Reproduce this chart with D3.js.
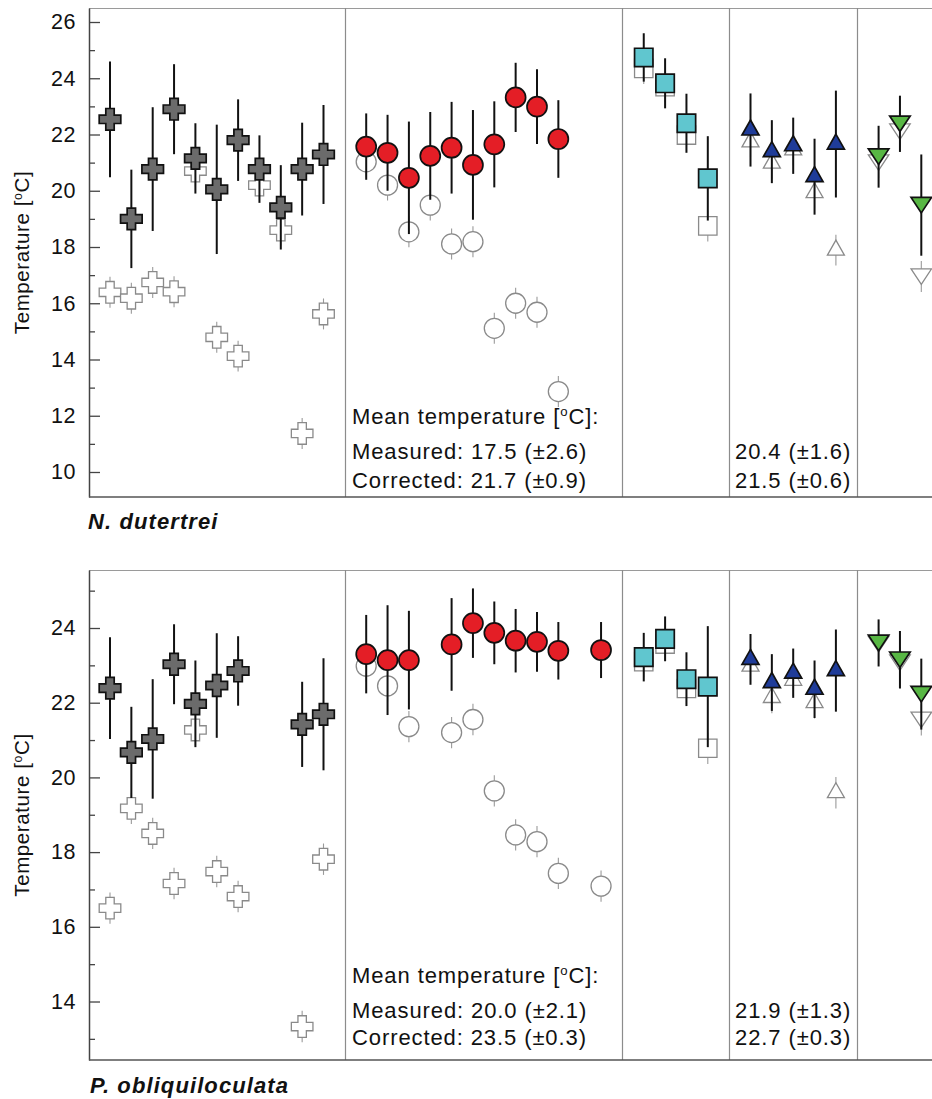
<!DOCTYPE html>
<html><head><meta charset="utf-8">
<script src="https://cdn.jsdelivr.net/npm/d3@7"></script>
<style>body{margin:0;background:#fff}svg{display:block}</style>
</head><body>
<svg id="c" width="932" height="1099"></svg>
<script>
// ---------------- DATA ----------------
// x positions are sample slots along the transect (group boundaries between)
const groupBoundaries = [11, 24, 29, 35];

// N. dutertrei (top panel)
const ndTicksMajor = [10, 12, 14, 16, 18, 20, 22, 24, 26];
const ndTicksMinor = [11, 13, 15, 17, 19, 21, 23, 25];
const ndMeasErr = 0.55;
const ndCrossIdx  = [0, 1, 2, 3, 4, 5, 6, 7, 8, 9, 10];
const ndCrossCorr = [22.54, 19.0, 20.77, 22.9, 21.15, 20.05, 21.8, 20.77, 19.41, 20.77, 21.29];
const ndCrossErr  = [2.06, 1.75, 2.2, 1.6, 1.25, 2.3, 1.45, 1.2, 1.5, 1.65, 1.76];
const ndCrossMeas = [16.39, 16.18, 16.74, 16.41, 20.7, 14.79, 14.12, 20.2, 18.6, 11.37, 15.62];
const ndCircIdx  = [12, 13, 14, 15, 16, 17, 18, 19, 20, 21];
const ndCircCorr = [21.57, 21.35, 20.46, 21.24, 21.53, 20.92, 21.65, 23.32, 22.99, 21.84];
const ndCircErr  = [1.18, 1.35, 2.0, 1.56, 1.63, 1.95, 1.53, 1.23, 1.33, 1.38];
const ndCircMeas = [21.03, 20.2, 18.54, 19.49, 18.11, 18.19, 15.11, 16.0, 15.68, 12.86];
const ndSqIdx  = [25, 26, 27, 28];
const ndSqCorr = [24.74, 23.82, 22.4, 20.44];
const ndSqErr  = [0.86, 0.89, 1.05, 1.5];
const ndSqMeas = [24.35, 23.7, 21.98, 18.75];
const ndTriIdx  = [30, 31, 32, 33, 34];
const ndTriCorr = [22.16, 21.39, 21.6, 20.5, 21.66];
const ndTriErr  = [1.3, 1.12, 1.0, 1.35, 1.9];
const ndTriMeas = [21.74, 20.98, 21.45, 19.93, 17.89];
const ndDtriIdx  = [36, 37, 38];
const ndDtriCorr = [21.21, 22.38, 19.49];
const ndDtriErr  = [1.1, 1.0, 1.8];
const ndDtriMeas = [21.0, 22.1, 16.95];
const meanHeader = "Mean temperature [";
const ndMeanCol1 = ["Measured: 17.5 (±2.6)", "Corrected: 21.7 (±0.9)"];
const ndMeanCol2 = ["20.4 (±1.6)", "21.5 (±0.6)"];

// P. obliquiloculata (bottom panel)
const poTicksMajor = [14, 16, 18, 20, 22, 24];
const poTicksMinor = [13, 15, 17, 19, 21, 23, 25];
const poMeasErr = 0.42;
const poCrossIdx  = [0, 1, 2, 3, 4, 5, 6, 9, 10];
const poCrossCorr = [22.39, 20.67, 21.03, 23.03, 21.97, 22.46, 22.85, 21.42, 21.69];
const poCrossErr  = [1.36, 1.22, 1.6, 1.07, 1.16, 1.4, 0.93, 1.14, 1.5];
const poCrossMeas = [16.5, 19.17, 18.5, 17.16, 21.27, 17.48, 16.81, 13.33, 17.81];
const poCircIdx  = [12, 13, 14, 16, 17, 18, 19, 20, 21, 23];
const poCircCorr = [23.3, 23.14, 23.14, 23.56, 24.13, 23.87, 23.66, 23.63, 23.39, 23.41];
const poCircErr  = [1.05, 1.47, 1.32, 1.24, 0.93, 0.84, 0.85, 0.8, 0.77, 0.75];
const poCircMeas = [22.98, 22.45, 21.36, 21.2, 21.55, 19.64, 18.46, 18.28, 17.43, 17.09];
const poSqIdx  = [25, 26, 27, 28];
const poSqCorr = [23.22, 23.71, 22.63, 22.43];
const poSqErr  = [0.65, 0.6, 0.72, 1.62];
const poSqMeas = [23.1, 23.57, 22.38, 20.78];
const poTriIdx  = [30, 31, 32, 33, 34];
const poTriCorr = [23.16, 22.54, 22.79, 22.36, 22.86];
const poTriErr  = [0.68, 0.76, 0.66, 0.77, 1.1];
const poTriMeas = [22.98, 22.14, 22.6, 22.0, 19.59];
const poDtriIdx  = [36, 37, 38];
const poDtriCorr = [23.6, 23.15, 22.23];
const poDtriErr  = [0.63, 0.77, 0.95];
const poDtriMeas = [23.57, 23.07, 21.54];
const poMeanCol1 = ["Measured: 20.0 (±2.1)", "Corrected: 23.5 (±0.3)"];
const poMeanCol2 = ["21.9 (±1.3)", "22.7 (±0.3)"];

// ---------------- DRAWING ----------------
const W = 932, PL = 89;
const FONT = '"Liberation Sans", Arial, Helvetica, sans-serif';
const svg = d3.select('#c');
const x = d3.scaleLinear().domain([0, 38]).range([110, 921.3]);

const colors = {
  cross: '#6b6b6b', circle: '#e41e26', square: '#60c6cf', tri: '#1f3c99', dtri: '#58b744'
};

function shapePath(shape) {
  switch (shape) {
    case 'cross': { const s = 10.8, t = 4.2;
      return `M${-t},${-s}H${t}V${-t}H${s}V${t}H${t}V${s}H${-t}V${t}H${-s}V${-t}H${-t}Z`; }
    case 'square': { const h = 9.2;
      return `M${-h},${-h}H${h}V${h}H${-h}Z`; }
    case 'tri': { const w = 17, h = 15;
      return `M0,${-2*h/3}L${w/2},${h/3}L${-w/2},${h/3}Z`; }
    case 'dtri': { const w = 20.5, h = 15.5;
      return `M0,${h/2}L${w/2},${-h/2}L${-w/2},${-h/2}Z`; }
    case 'circle': return d3.symbol(d3.symbolCircle, Math.PI * 10 * 10)();
  }
}

function superDeg(textSel, before, after, fs) {
  textSel.append('tspan').text(before);
  textSel.append('tspan').attr('font-size', fs * 0.6).attr('dy', -fs * 0.36).text('o');
  textSel.append('tspan').attr('dy', fs * 0.36).text(after);
}

function drawPanel(p) {
  const y = d3.scaleLinear().domain(p.yDomain).range(p.yRange);
  const [yb, yt] = p.yRange;
  const g = svg.append('g');

  // top frame
  g.append('line').attr('x1', PL).attr('x2', W).attr('y1', yt + 0.5).attr('y2', yt + 0.5)
    .attr('stroke', '#9a9a9a').attr('stroke-width', 1.2);
  // group separators
  g.selectAll('line.sep').data(groupBoundaries).join('line').attr('class', 'sep')
    .attr('x1', d => Math.round(x(d)) + 0.5).attr('x2', d => Math.round(x(d)) + 0.5)
    .attr('y1', yt).attr('y2', yb).attr('stroke', '#8c8c8c').attr('stroke-width', 1.2);

  // y axis (ticks inward)
  const axG = g.append('g').attr('transform', `translate(${PL},0)`)
    .call(d3.axisLeft(y).tickValues(p.majors).tickSizeInner(-11).tickSizeOuter(0)
      .tickPadding(13).tickFormat(d3.format('d')));
  axG.select('.domain').attr('stroke', '#444').attr('stroke-width', 1.5);
  axG.selectAll('.tick line').attr('stroke', '#444').attr('stroke-width', 1.3);
  axG.selectAll('.tick text').attr('font-family', FONT).attr('font-size', 21.5)
    .attr('fill', '#111').attr('letter-spacing', 0.5);
  const mnG = g.append('g').attr('transform', `translate(${PL},0)`)
    .call(d3.axisLeft(y).tickValues(p.minors).tickSizeInner(-6).tickSizeOuter(0).tickFormat(''));
  mnG.select('.domain').remove();
  mnG.selectAll('.tick line').attr('stroke', '#444').attr('stroke-width', 1.3);

  // bottom axis line
  g.append('line').attr('x1', PL).attr('x2', W).attr('y1', yb).attr('y2', yb)
    .attr('stroke', '#555').attr('stroke-width', 1.6);

  // axis title
  const tt = g.append('text').attr('transform', `translate(29,${(yt + yb) / 2}) rotate(-90)`)
    .attr('text-anchor', 'middle').attr('font-family', FONT).attr('font-size', 20.5)
    .attr('letter-spacing', 0.6).attr('fill', '#111');
  superDeg(tt, 'Temperature [', 'C]', 20.5);

  // species label
  g.append('text').attr('x', p.nameX).attr('y', p.nameY).attr('font-family', FONT)
    .attr('font-size', 22).attr('font-weight', 'bold').attr('font-style', 'italic')
    .attr('letter-spacing', 1.1).attr('fill', '#111').text(p.name);

  // data
  const plot = g.append('g');
  p.groups.forEach(gr => {
    const meas = gr.idx.map((d, i) => ({ i: d, v: gr.meas[i] }));
    const path = shapePath(gr.shape);
    // measured error ticks
    plot.append('g').selectAll('line').data(meas).join('line')
      .attr('x1', d => x(d.i)).attr('x2', d => x(d.i))
      .attr('y1', d => y(d.v + p.measErr)).attr('y2', d => y(d.v - p.measErr))
      .attr('stroke', '#9a9a9a').attr('stroke-width', 1.1);
    // measured markers
    plot.append('g').selectAll('path').data(meas).join('path')
      .attr('d', path).attr('transform', d => `translate(${x(d.i)},${y(d.v)})`)
      .attr('fill', '#fff').attr('stroke', '#8a8a8a').attr('stroke-width', 1.3);
  });
  p.groups.forEach(gr => {
    const corr = gr.idx.map((d, i) => ({ i: d, v: gr.corr[i], e: gr.err[i] }));
    const path = shapePath(gr.shape);
    plot.append('g').selectAll('line').data(corr).join('line')
      .attr('x1', d => x(d.i)).attr('x2', d => x(d.i))
      .attr('y1', d => y(d.v + d.e)).attr('y2', d => y(d.v - d.e))
      .attr('stroke', '#111').attr('stroke-width', 2);
    plot.append('g').selectAll('path').data(corr).join('path')
      .attr('d', path).attr('transform', d => `translate(${x(d.i)},${y(d.v)})`)
      .attr('fill', colors[gr.shape]).attr('stroke', '#111').attr('stroke-width', 1.7);
  });

  // mean temperature annotation
  const fs = 22, ls = 0.9;
  const hd = g.append('text').attr('x', 352).attr('y', p.textY[0]).attr('font-family', FONT)
    .attr('font-size', fs).attr('letter-spacing', ls).attr('fill', '#111');
  superDeg(hd, meanHeader, 'C]:', fs);
  p.col1.forEach((t, i) => g.append('text').attr('x', 352).attr('y', p.textY[i + 1])
    .attr('font-family', FONT).attr('font-size', fs).attr('letter-spacing', ls)
    .attr('fill', '#111').text(t));
  p.col2.forEach((t, i) => g.append('text').attr('x', 735).attr('y', p.textY[i + 1])
    .attr('font-family', FONT).attr('font-size', fs).attr('letter-spacing', ls)
    .attr('fill', '#111').text(t));
}

drawPanel({
  name: 'N. dutertrei', nameX: 88, nameY: 529,
  yDomain: [9.111, 26.498], yRange: [497, 8],
  majors: ndTicksMajor, minors: ndTicksMinor, measErr: ndMeasErr,
  textY: [424, 459, 488], col1: ndMeanCol1, col2: ndMeanCol2,
  groups: [
    { shape: 'cross', idx: ndCrossIdx, corr: ndCrossCorr, err: ndCrossErr, meas: ndCrossMeas },
    { shape: 'circle', idx: ndCircIdx, corr: ndCircCorr, err: ndCircErr, meas: ndCircMeas },
    { shape: 'square', idx: ndSqIdx, corr: ndSqCorr, err: ndSqErr, meas: ndSqMeas },
    { shape: 'tri', idx: ndTriIdx, corr: ndTriCorr, err: ndTriErr, meas: ndTriMeas },
    { shape: 'dtri', idx: ndDtriIdx, corr: ndDtriCorr, err: ndDtriErr, meas: ndDtriMeas }
  ]
});
drawPanel({
  name: 'P. obliquiloculata', nameX: 90, nameY: 1093,
  yDomain: [12.434, 25.553], yRange: [1060, 570],
  majors: poTicksMajor, minors: poTicksMinor, measErr: poMeasErr,
  textY: [983, 1018, 1045], col1: poMeanCol1, col2: poMeanCol2,
  groups: [
    { shape: 'cross', idx: poCrossIdx, corr: poCrossCorr, err: poCrossErr, meas: poCrossMeas },
    { shape: 'circle', idx: poCircIdx, corr: poCircCorr, err: poCircErr, meas: poCircMeas },
    { shape: 'square', idx: poSqIdx, corr: poSqCorr, err: poSqErr, meas: poSqMeas },
    { shape: 'tri', idx: poTriIdx, corr: poTriCorr, err: poTriErr, meas: poTriMeas },
    { shape: 'dtri', idx: poDtriIdx, corr: poDtriCorr, err: poDtriErr, meas: poDtriMeas }
  ]
});
</script>
</body></html>
